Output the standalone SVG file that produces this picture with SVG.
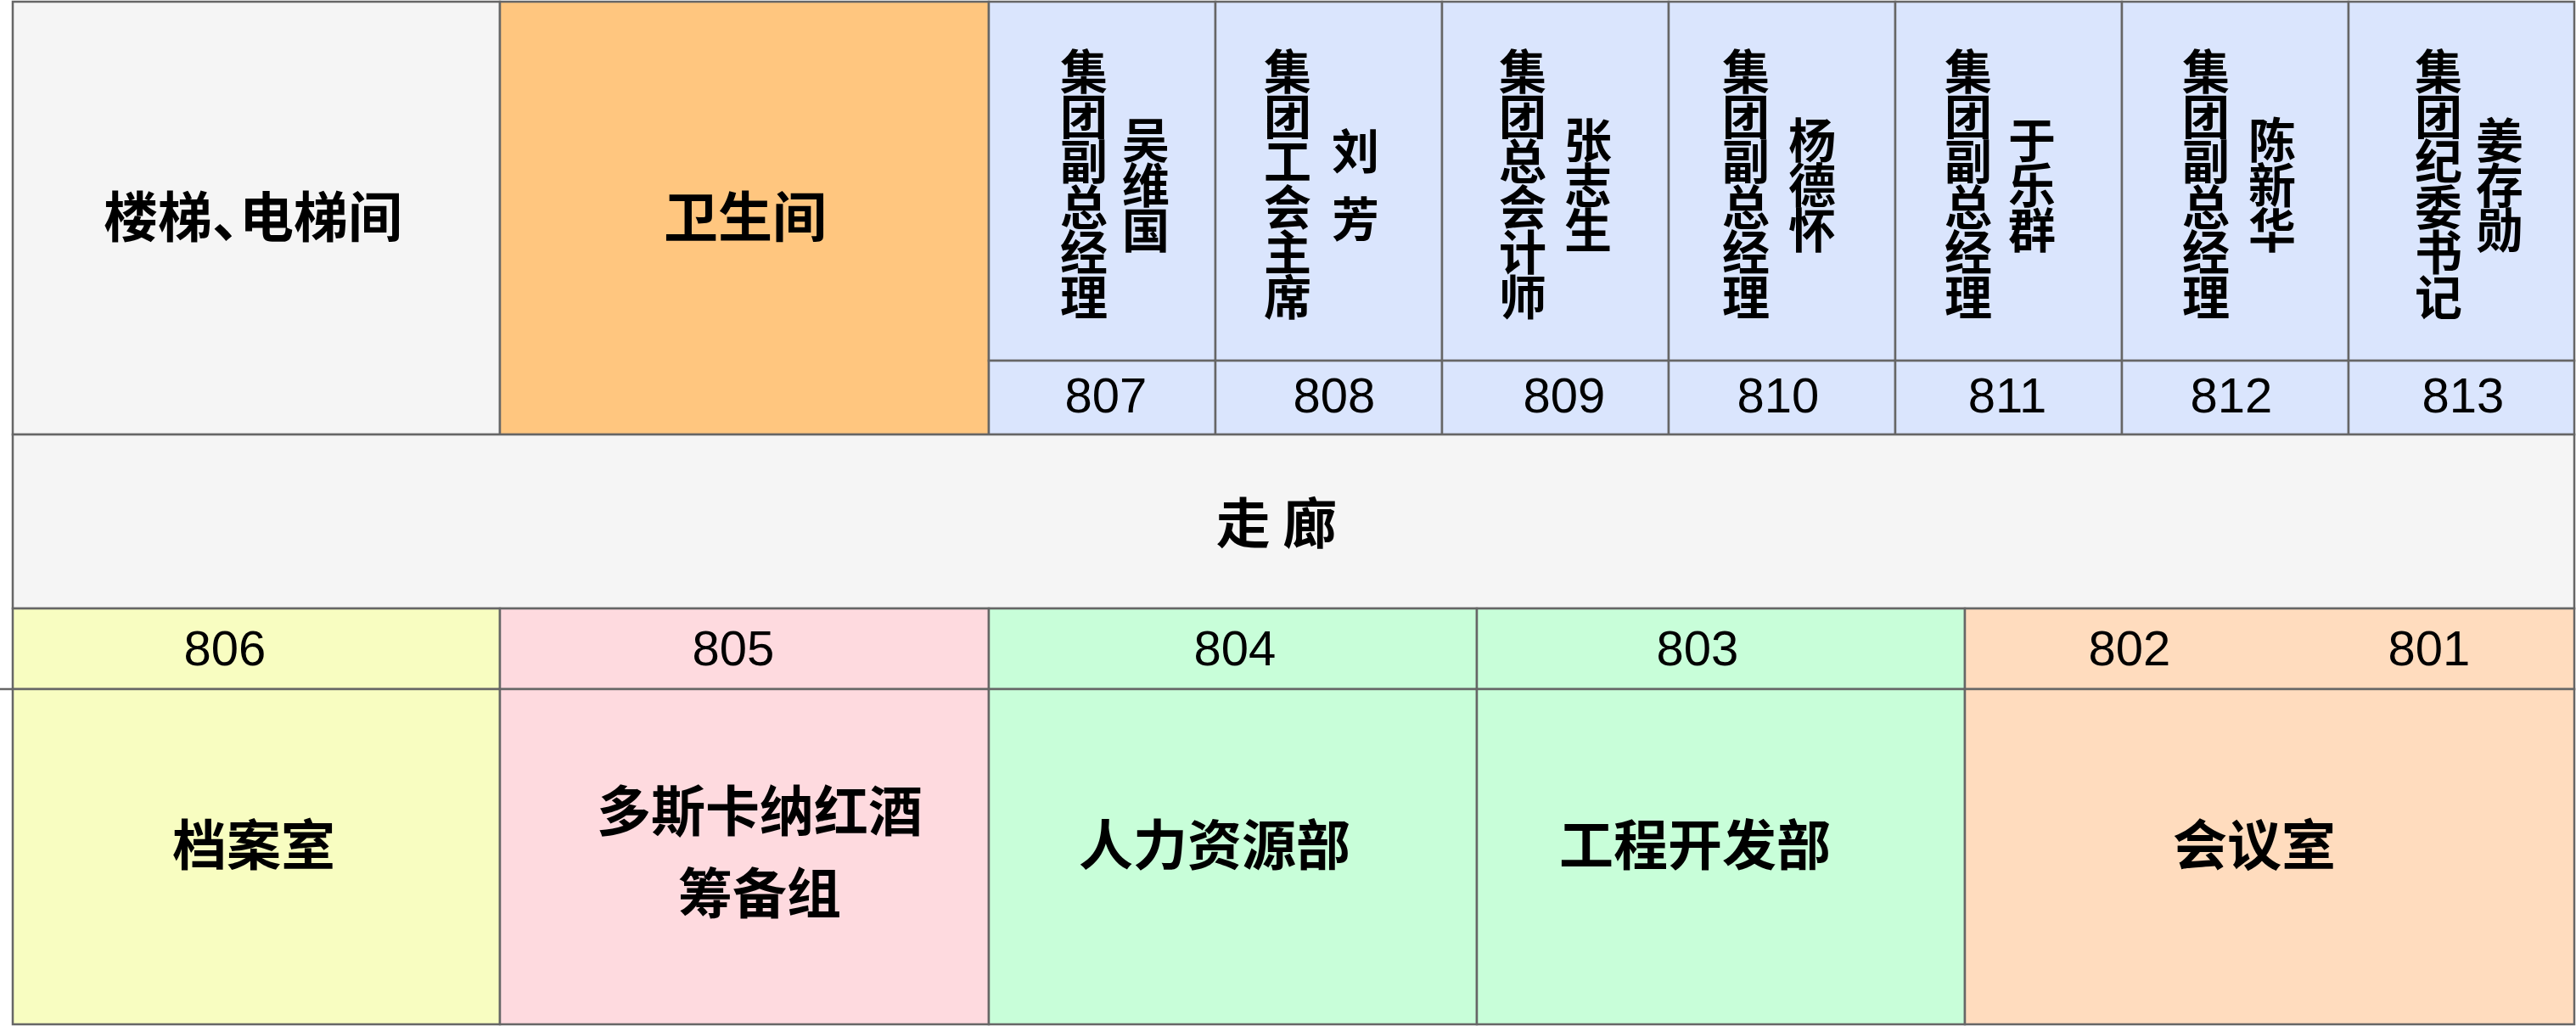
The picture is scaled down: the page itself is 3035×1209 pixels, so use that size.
<svg xmlns="http://www.w3.org/2000/svg" width="3035" height="1209" viewBox="0 0 3035 1209">
<style>
.c{stroke:#666;stroke-width:2.5}
.gray{fill:#f5f5f5}
.orange{fill:#ffc67f}
.blue{fill:#dae5fd}
.yellow{fill:#f8fdc1}
.pink{fill:#fedadf}
.green{fill:#c8fed9}
.peach{fill:#ffdcbe}
.lbl{font-family:"Noto Sans CJK SC","Noto Sans",sans-serif;font-weight:700;font-size:64px;text-anchor:middle;dominant-baseline:central;fill:#000}
.halt{font-feature-settings:"halt" 1}
.v{font-family:"Noto Sans CJK SC",sans-serif;font-weight:700;font-size:56px;text-anchor:middle;dominant-baseline:central;fill:#000}
.num{font-family:"Liberation Sans",Arial,sans-serif;font-size:58px;text-anchor:middle;fill:#000}
</style>
<rect width="3035" height="1209" fill="#fff"/>
<g id="stairs"><rect class="c gray" x="15" y="2" width="574" height="510"/><text class="lbl halt" x="298" y="251">楼梯、电梯间</text></g>
<g id="toilet"><rect class="c orange" x="589" y="2" width="576" height="510"/><text class="lbl" x="878" y="251">卫生间</text></g>
<g id="room807"><rect class="c blue" x="1165" y="2" width="267" height="423"/><rect class="c blue" x="1165" y="425" width="267" height="87"/>
<text class="v" x="1277 1277 1277 1277 1277 1277" y="80 133 186 240 293 346">集团副总经理</text>
<text class="v" x="1350 1350 1350" y="161 214 267">吴维国</text>
<text class="num" x="1303" y="486">807</text></g>
<g id="room808"><rect class="c blue" x="1432" y="2" width="267" height="423"/><rect class="c blue" x="1432" y="425" width="267" height="87"/>
<text class="v" x="1517 1517 1517 1517 1517 1517" y="80 133 186 240 293 346">集团工会主席</text>
<text class="v" x="1597 1597 1597" y="174 214 254">刘 芳</text>
<text class="num" x="1572" y="486">808</text></g>
<g id="room809"><rect class="c blue" x="1699" y="2" width="267" height="423"/><rect class="c blue" x="1699" y="425" width="267" height="87"/>
<text class="v" x="1794 1794 1794 1794 1794 1794" y="80 133 186 240 293 346">集团总会计师</text>
<text class="v" x="1871 1871 1871" y="161 214 267">张志生</text>
<text class="num" x="1843" y="486">809</text></g>
<g id="room810"><rect class="c blue" x="1966" y="2" width="267" height="423"/><rect class="c blue" x="1966" y="425" width="267" height="87"/>
<text class="v" x="2057 2057 2057 2057 2057 2057" y="80 133 186 240 293 346">集团副总经理</text>
<text class="v" x="2135 2135 2135" y="161 214 267">杨德怀</text>
<text class="num" x="2095" y="486">810</text></g>
<g id="room811"><rect class="c blue" x="2233" y="2" width="267" height="423"/><rect class="c blue" x="2233" y="425" width="267" height="87"/>
<text class="v" x="2319 2319 2319 2319 2319 2319" y="80 133 186 240 293 346">集团副总经理</text>
<text class="v" x="2394 2394 2394" y="161 214 267">于乐群</text>
<text class="num" x="2365" y="486">811</text></g>
<g id="room812"><rect class="c blue" x="2500" y="2" width="267" height="423"/><rect class="c blue" x="2500" y="425" width="267" height="87"/>
<text class="v" x="2599 2599 2599 2599 2599 2599" y="80 133 186 240 293 346">集团副总经理</text>
<text class="v" x="2677 2677 2677" y="161 214 267">陈新华</text>
<text class="num" x="2629" y="486">812</text></g>
<g id="room813"><rect class="c blue" x="2767" y="2" width="266" height="423"/><rect class="c blue" x="2767" y="425" width="266" height="87"/>
<text class="v" x="2873 2873 2873 2873 2873 2873" y="80 133 186 240 293 346">集团纪委书记</text>
<text class="v" x="2945 2945 2945" y="161 214 267">姜存勋</text>
<text class="num" x="2902" y="486">813</text></g>
<g id="corridor"><rect class="c gray" x="15" y="512" width="3018" height="205"/><text class="lbl" x="1504" y="612">走 廊</text></g>
<g id="room806"><rect class="c yellow" x="15" y="717" width="574" height="95"/><rect class="c yellow" x="15" y="812" width="574" height="395"/>
<text class="num" x="265" y="784">806</text><text class="lbl" x="299" y="991">档案室</text></g>
<g id="room805"><rect class="c pink" x="589" y="717" width="576" height="95"/><rect class="c pink" x="589" y="812" width="576" height="395"/>
<text class="num" x="864" y="784">805</text><text class="lbl" x="895" y="951">多斯卡纳红酒</text><text class="lbl" x="895" y="1048">筹备组</text></g>
<g id="room804"><rect class="c green" x="1165" y="717" width="575" height="95"/><rect class="c green" x="1165" y="812" width="575" height="395"/>
<text class="num" x="1455" y="784">804</text><text class="lbl" x="1431" y="991">人力资源部</text></g>
<g id="room803"><rect class="c green" x="1740" y="717" width="575" height="95"/><rect class="c green" x="1740" y="812" width="575" height="395"/>
<text class="num" x="2000" y="784">803</text><text class="lbl" x="1997" y="991">工程开发部</text></g>
<g id="room802-801"><rect class="c peach" x="2315" y="717" width="718" height="95"/><rect class="c peach" x="2315" y="812" width="718" height="395"/>
<text class="num" x="2509" y="784">802</text><text class="num" x="2862" y="784">801</text><text class="lbl" x="2656" y="991">会议室</text></g>
<g id="connectors"><line class="c" x1="0" y1="812" x2="15" y2="812"/></g>
</svg>
